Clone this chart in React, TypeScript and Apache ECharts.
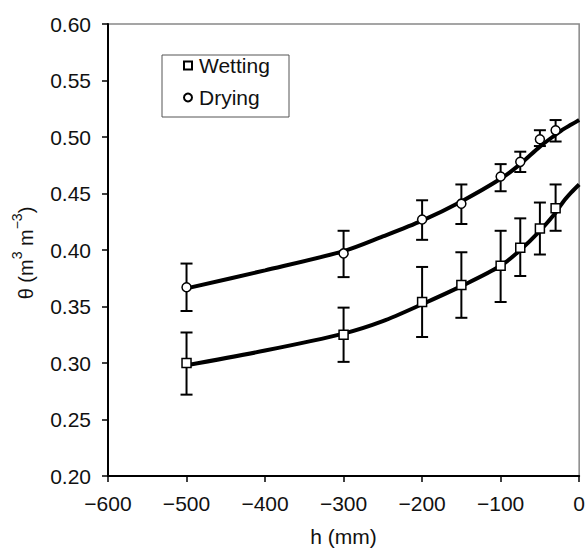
import React, { useEffect, useRef } from "react";
import * as echarts from "echarts";

// Measured points (h in mm, theta mean, lower error, upper error)
const wetH = [-500, -300, -200, -150, -100, -75, -50, -30];
const wetMean = [0.300, 0.325, 0.354, 0.369, 0.386, 0.402, 0.419, 0.437];
const wetLow = [0.272, 0.301, 0.323, 0.340, 0.354, 0.377, 0.396, 0.417];
const wetHigh = [0.327, 0.349, 0.385, 0.398, 0.417, 0.428, 0.442, 0.458];

const dryH = [-500, -300, -200, -150, -100, -75, -50, -30];
const dryMean = [0.367, 0.397, 0.427, 0.441, 0.465, 0.478, 0.498, 0.506];
const dryLow = [0.346, 0.376, 0.409, 0.423, 0.452, 0.469, 0.492, 0.496];
const dryHigh = [0.388, 0.417, 0.444, 0.458, 0.476, 0.487, 0.506, 0.515];

// Fitted curves
const curveH = [-500, -400, -300, -250, -200, -150, -100, -75, -50, -30, -20, -10, 0];
const wetCurve = [0.298, 0.311, 0.326, 0.337, 0.352, 0.368, 0.386, 0.400, 0.417, 0.433, 0.443, 0.451, 0.458];
const dryCurve = [0.366, 0.382, 0.399, 0.412, 0.426, 0.443, 0.463, 0.476, 0.4915, 0.502, 0.507, 0.511, 0.515];

const xTicks = { min: -600, max: 0, interval: 100 };
const yTicks = { min: 0.2, max: 0.6, interval: 0.05 };

const FONT = "Liberation Sans, Arial, sans-serif";
const FS = 21;

export default function App() {
  const ref = useRef<HTMLDivElement>(null);
  useEffect(() => {
    if (!ref.current) return;
    const chart = echarts.init(ref.current, undefined, { renderer: "svg" });
    const errRender = (params: any, api: any) => {
      const x = api.value(0);
      const lo = api.coord([x, api.value(1)]);
      const hi = api.coord([x, api.value(2)]);
      const cap = 6;
      const st = { stroke: "#000", lineWidth: 2 };
      return {
        type: "group",
        children: [
          { type: "line", shape: { x1: lo[0], y1: lo[1], x2: hi[0], y2: hi[1] }, style: st },
          { type: "line", shape: { x1: lo[0] - cap, y1: lo[1], x2: lo[0] + cap, y2: lo[1] }, style: st },
          { type: "line", shape: { x1: hi[0] - cap, y1: hi[1], x2: hi[0] + cap, y2: hi[1] }, style: st },
        ],
      };
    };
    const option: any = {
      animation: false,
      backgroundColor: "#fff",
      textStyle: { fontFamily: FONT },
      grid: {
        left: 108,
        right: 7,
        top: 24,
        bottom: 73,
        show: true,
        borderColor: "#888",
        borderWidth: 1.5,
        backgroundColor: "transparent",
      },
      graphic: [
        {
          type: "rect",
          shape: { x: 162, y: 55, width: 127, height: 62 },
          style: { fill: "#fff", stroke: "#555", lineWidth: 1 },
          z: 10,
        },
      ],
      legend: {
        left: 183,
        top: 55,
        orient: "vertical",
        data: ["Wetting", "Drying"],
        padding: 0,
        itemGap: 11,
        itemWidth: 8,
        itemHeight: 8,
        z: 20,
        textStyle: { fontSize: FS, color: "#111", fontFamily: FONT, padding: [0, 0, 0, 2] },
      },
      xAxis: {
        type: "value",
        min: xTicks.min,
        max: xTicks.max,
        interval: xTicks.interval,
        name: "h (mm)",
        nameLocation: "middle",
        nameGap: 50,
        nameTextStyle: { fontSize: FS, color: "#111", fontFamily: FONT },
        axisLine: { show: true, onZero: false, lineStyle: { color: "#000", width: 2 } },
        axisTick: { show: true, length: 6, lineStyle: { color: "#000", width: 1.5 } },
        axisLabel: {
          fontSize: FS,
          color: "#111",
          margin: 17,
          fontFamily: FONT,
          formatter: (v: number) => (v < 0 ? "\u2212" + Math.abs(v) : String(v)),
        },
        splitLine: { show: false },
      },
      yAxis: {
        type: "value",
        min: yTicks.min,
        max: yTicks.max,
        interval: yTicks.interval,
        name: "{n|θ (m}{s|3}{n| m}{s|\u22123}{n|)}{p|}",
        nameLocation: "middle",
        nameGap: 72,
        nameRotate: 90,
        nameTextStyle: {
          color: "#111",
          fontFamily: FONT,
          rich: {
            n: { fontSize: 20, lineHeight: 26, color: "#111", fontFamily: FONT, verticalAlign: "bottom" },
            s: { fontSize: 14, lineHeight: 26, color: "#111", fontFamily: FONT, verticalAlign: "top" },
            p: { width: 6, lineHeight: 26 },
          },
        },
        axisLine: { show: true, onZero: false, lineStyle: { color: "#000", width: 2 } },
        axisTick: { show: true, length: 6, lineStyle: { color: "#000", width: 1.5 } },
        axisLabel: {
          fontSize: FS,
          color: "#111",
          margin: 17,
          fontFamily: FONT,
          formatter: (v: number) => v.toFixed(2),
        },
        splitLine: { show: false },
      },
      series: [
        {
          name: "wetCurve",
          type: "line",
          data: curveH.map((h, i) => [h, wetCurve[i]]),
          smooth: 0.3,
          showSymbol: false,
          lineStyle: { color: "#000", width: 4 },
          z: 2,
        },
        {
          name: "dryCurve",
          type: "line",
          data: curveH.map((h, i) => [h, dryCurve[i]]),
          smooth: 0.3,
          showSymbol: false,
          lineStyle: { color: "#000", width: 4 },
          z: 2,
        },
        {
          name: "wetErr",
          type: "custom",
          renderItem: errRender,
          data: wetH.map((h, i) => [h, wetLow[i], wetHigh[i]]),
          encode: { x: 0, y: [1, 2] },
          z: 3,
        },
        {
          name: "dryErr",
          type: "custom",
          renderItem: errRender,
          data: dryH.map((h, i) => [h, dryLow[i], dryHigh[i]]),
          encode: { x: 0, y: [1, 2] },
          z: 3,
        },
        {
          name: "Wetting",
          type: "scatter",
          symbol: "rect",
          symbolSize: 9,
          data: wetH.map((h, i) => [h, wetMean[i]]),
          itemStyle: { color: "#fff", borderColor: "#000", borderWidth: 1.5, opacity: 1 },
          z: 5,
        },
        {
          name: "Drying",
          type: "scatter",
          symbol: "circle",
          symbolSize: 9,
          data: dryH.map((h, i) => [h, dryMean[i]]),
          itemStyle: { color: "#fff", borderColor: "#000", borderWidth: 1.5, opacity: 1 },
          z: 5,
        },
      ],
    };
    chart.setOption(option);
    return () => chart.dispose();
  }, []);
  return <div ref={ref} style={{ width: 588, height: 552, position: "absolute", left: 0, top: 0 }} />;
}
